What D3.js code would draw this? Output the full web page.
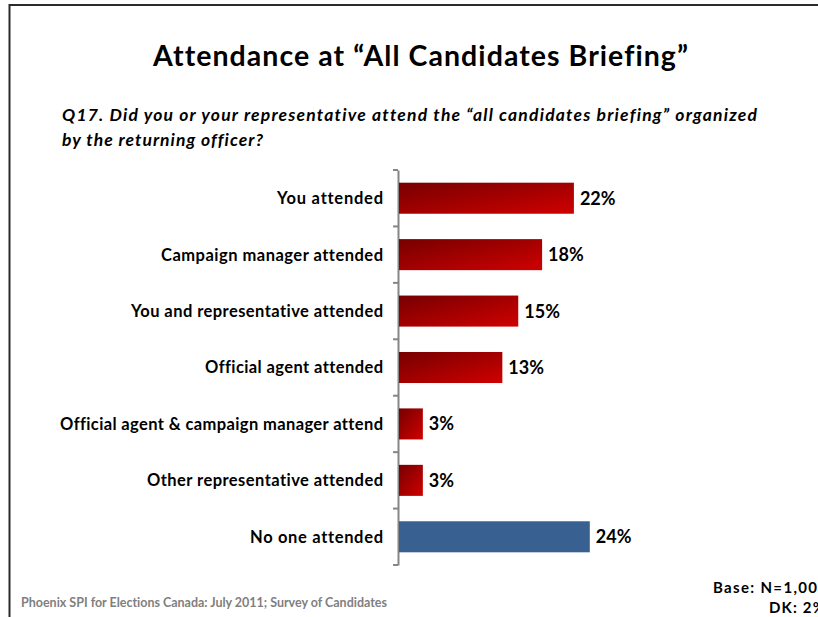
<!DOCTYPE html>
<html>
<head>
<meta charset="utf-8">
<script src="https://cdn.jsdelivr.net/npm/d3@7"></script>
<style>
  html, body { margin: 0; padding: 0; background: #fff; }
  svg { display: block; }
  text {
    font-family: Lato, "Open Sans", "DejaVu Sans", sans-serif;
    font-variant-ligatures: none;
    font-feature-settings: "liga" 0, "clig" 0;
  }
</style>
</head>
<body>
<svg id="chart" width="818" height="617"></svg>
<script>
// Survey responses: who attended the briefing (percent of candidates)
const categories = [
  "You attended",
  "Campaign manager attended",
  "You and representative attended",
  "Official agent attended",
  "Official agent & campaign manager attend",
  "Other representative attended",
  "No one attended"
];
const values = [22, 18, 15, 13, 3, 3, 24];
const highlight = [false, false, false, false, false, false, true];
const valueLabels = ["22%", "18%", "15%", "13%", "3%", "3%", "24%"];

const titleText = "Attendance at \u201CAll Candidates  Briefing\u201D";
const questionLines = [
  "Q17. Did you or your representative attend the \u201Call candidates briefing\u201D organized",
  "by the returning officer?"
];
const sourceText = "Phoenix SPI for Elections Canada: July 2011; Survey of Candidates";
const baseLines = ["Base: N=1,008", "DK: 2%"];

// typeset widths (the slide uses a loosely spaced face)
const layout = {
  titleWidth: 535,
  questionWidths: [695, 201],
  categoryWidths: [106, 222, 252, 178, 323, 236, 133],
  sourceWidth: 366,
  baseWidths: [114, 56]
};

const svg = d3.select("#chart");

// gradient for the red bars: dark at top-left, bright at bottom-right
const defs = svg.append("defs");
const grad = defs.append("linearGradient")
  .attr("id", "redGrad")
  .attr("x1", "0%").attr("y1", "0%")
  .attr("x2", "100%").attr("y2", "100%");
grad.append("stop").attr("offset", "0%").attr("stop-color", "#760000");
grad.append("stop").attr("offset", "100%").attr("stop-color", "#d00000");

// slide frame (top and left rules)
svg.append("line").attr("x1", 9).attr("y1", 5).attr("x2", 818).attr("y2", 5)
  .attr("stroke", "#2b2b2b").attr("stroke-width", 2);
svg.append("line").attr("x1", 9.5).attr("y1", 4).attr("x2", 9.5).attr("y2", 617)
  .attr("stroke", "#2b2b2b").attr("stroke-width", 2);

// title
svg.append("text")
  .attr("x", 153).attr("y", 66)
  .attr("font-size", 28.5).attr("font-weight", 700)
  .attr("fill", "#000")
  .attr("textLength", layout.titleWidth).attr("lengthAdjust", "spacing")
  .text(titleText);

// question
svg.append("g").selectAll("text")
  .data(questionLines)
  .join("text")
  .attr("x", 62)
  .attr("y", (d, i) => 121 + i * 25)
  .attr("font-size", 17.5).attr("font-weight", 700).attr("font-style", "italic")
  .attr("fill", "#000")
  .attr("textLength", (d, i) => layout.questionWidths[i]).attr("lengthAdjust", "spacing")
  .text(d => d);

// scales
const x = d3.scaleLinear().domain([0, 25]).range([399, 399 + 25 * 7.95]);
const y = d3.scaleBand().domain(categories).range([170, 565])
  .paddingInner(0.45).paddingOuter(0.225);

// category axis
const axis = d3.axisLeft(y).tickSize(0).tickFormat("");
const gAxis = svg.append("g").attr("transform", `translate(${x(0) - 1},0)`).call(axis);
gAxis.select(".domain").attr("stroke", "#868686").attr("stroke-width", 2);

// boundary ticks between categories
const step = y.step();
const y0 = 170;
const boundaries = d3.range(categories.length + 1).map(i => y0 + i * step);
svg.append("g").selectAll("line")
  .data(boundaries)
  .join("line")
  .attr("x1", x(0) - 6).attr("x2", x(0) - 1)
  .attr("y1", d => d).attr("y2", d => d)
  .attr("stroke", "#868686").attr("stroke-width", 2);

// category labels
svg.append("g").selectAll("text")
  .data(categories)
  .join("text")
  .attr("x", (d, i) => 383 - layout.categoryWidths[i])
  .attr("y", d => y(d) + y.bandwidth() / 2)
  .attr("dy", "0.36em")
  .attr("font-size", 16.5).attr("font-weight", 700)
  .attr("fill", "#000")
  .attr("textLength", (d, i) => layout.categoryWidths[i]).attr("lengthAdjust", "spacing")
  .text(d => d);

// bars
svg.append("g").selectAll("rect")
  .data(categories)
  .join("rect")
  .attr("x", x(0))
  .attr("y", d => y(d))
  .attr("width", (d, i) => x(values[i]) - x(0))
  .attr("height", y.bandwidth())
  .attr("fill", (d, i) => highlight[i] ? "#386192" : "url(#redGrad)");

// value labels
svg.append("g").selectAll("text")
  .data(categories)
  .join("text")
  .attr("x", (d, i) => x(values[i]) + 6)
  .attr("y", d => y(d) + y.bandwidth() / 2)
  .attr("dy", "0.36em")
  .attr("font-size", 18).attr("font-weight", 700)
  .attr("fill", "#000")
  .text((d, i) => valueLabels[i]);

// source note
svg.append("text")
  .attr("x", 21).attr("y", 607)
  .attr("font-size", 12.5).attr("font-weight", 700)
  .attr("fill", "#7f7f7f")
  .attr("textLength", layout.sourceWidth).attr("lengthAdjust", "spacing")
  .text(sourceText);

// base note
svg.append("text")
  .attr("x", 713).attr("y", 593)
  .attr("font-size", 15).attr("font-weight", 700)
  .attr("fill", "#000")
  .attr("textLength", layout.baseWidths[0]).attr("lengthAdjust", "spacing")
  .text(baseLines[0]);
svg.append("text")
  .attr("x", 769).attr("y", 613)
  .attr("font-size", 15).attr("font-weight", 700)
  .attr("fill", "#000")
  .attr("textLength", layout.baseWidths[1]).attr("lengthAdjust", "spacing")
  .text(baseLines[1]);
</script>
</body>
</html>
